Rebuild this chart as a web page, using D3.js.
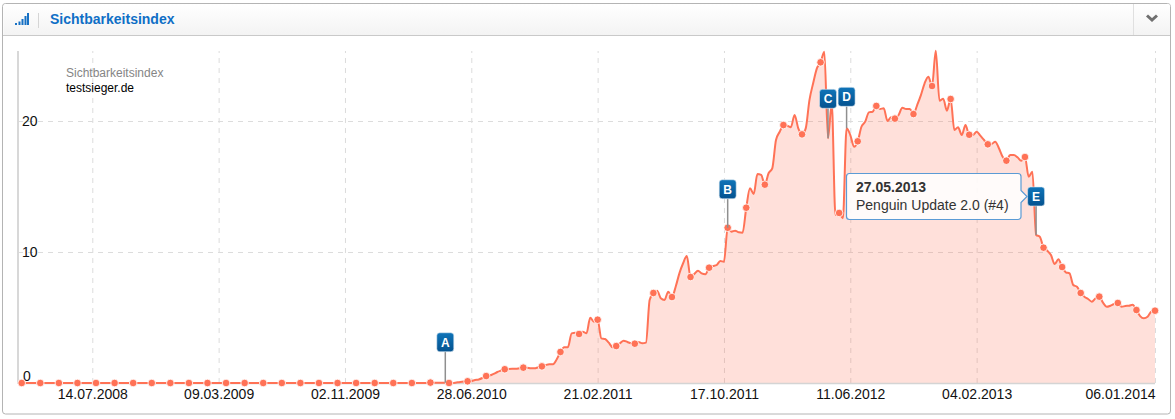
<!DOCTYPE html>
<html>
<head>
<meta charset="utf-8">
<script src="https://cdn.jsdelivr.net/npm/d3@7"></script>
<style>
html,body{margin:0;padding:0;background:#fff;}
svg{display:block;font-family:"Liberation Sans",Arial,sans-serif;}
</style>
</head>
<body>
<div id="chart"></div>
<script>
const chartTitle = "Sichtbarkeitsindex";
const domainName = "testsieger.de";
const firstWeek = "03.03.2008";
const visibility = [
0,0,0,0,0,0,0,0,0,0, 0,0,0,0,0,0,0,0,0,0,
0,0,0,0,0,0,0,0,0,0, 0,0,0,0,0,0,0,0,0,0,
0,0,0,0,0,0,0,0,0,0, 0,0,0,0,0,0,0,0,0,0,
0,0,0,0,0,0,0,0,0,0, 0,0,0,0,0,0,0,0,0,0,
0,0,0,0,0,0,0,0,0,0, 0,0,0,0,0,0,0,0,0,0,
0,0,0,0,0,0,0,0,0,0,
0.03,0.02,0.02,0.02,0.02,0,0,0.04,0.08,0.11,
0.13,0.15,0.23,0.27,0.38,0.53,0.57,0.69,0.84,0.95,
1.05,1.07,1.08,1.08,1.13,1.17,1.17,1.12,1.12,1.2,
1.27,1.37,1.43,1.43,1.81,2.37,2.73,2.73,3.79,3.84,
3.74,3.92,3.79,4.98,4.68,4.83,3.41,3.36,3.08,2.73,
2.82,3.03,3.23,3.13,3.03,3.0,3.13,3.03,3.08,6.34,
6.87,7.05,6.47,6.34,6.97,6.56,7.35,8.37,9.14,9.69,
8.09,8.32,8.57,8.37,8.3,8.8,8.93,9.0,9.31,9.26,
11.85,11.55,11.63,11.5,11.47,13.38,14.86,14.43,15.95,15.88,
15.14,16.01,16.39,18.55,19.18,19.69,19.64,19.52,20.46,19.44,
18.98,19.44,21.6,22.88,24.02,24.48,25.29,18.68,21.35,12.82,
12.98,12.57,19.44,18.93,18.04,18.45,19.56,19.95,20.66,20.71,
21.15,20.92,20.97,20.0,20.28,20.18,20.46,21.02,20.92,20.92,
20.53,21.22,21.98,22.88,23.38,22.67,25.37,21.55,21.7,20.79,
21.68,19.31,19.52,18.93,19.69,18.95,18.93,19.18,18.88,18.55,
18.22,18.24,18.42,17.92,17.27,16.97,17.4,17.4,17.23,16.97,
17.25,15.75,16.13,11.3,11.17,10.33,10.1,9.77,9.08,9.44,
8.85,8.45,8.37,7.48,7.35,6.87,6.59,6.41,6.21,6.47,
6.59,6.13,5.82,5.9,6.03,6.11,5.82,5.88,5.9,5.98,
5.57,5.11,4.94,5.06,5.44,5.52
];
const xTickLabels = ["14.07.2008","09.03.2009","02.11.2009","28.06.2010","21.02.2011","17.10.2011","11.06.2012","04.02.2013","06.01.2014"];
const yTicks = [0,10,20];
const eventLabels = ["A","B","C","D","E"];
const eventDates = ["10.05.2010","24.10.2011","30.04.2012","04.06.2012","27.05.2013"];
const tooltipDate = "27.05.2013";
const tooltipText = "Penguin Update 2.0 (#4)";

const parseDate = d3.utcParse("%d.%m.%Y");
const fmtDate = d3.utcFormat("%d.%m.%Y");
const start = parseDate(firstWeek);
const points = visibility.map((v, i) => ({date: d3.utcDay.offset(start, i * 7), value: v, i}));

const W = 1175, H = 419;
const x = d3.scaleUtc().domain([start, points[points.length - 1].date]).range([21.7, 1155]);
const y = d3.scaleLinear().domain([0, 20]).range([383, 121]);
const lineColor = "#ff7256";

const svg = d3.select("#chart").append("svg").attr("width", W).attr("height", H);

// panel
const defs = svg.append("defs");
const grad = defs.append("linearGradient").attr("id", "hdr").attr("x1", 0).attr("x2", 0).attr("y1", 0).attr("y2", 1);
grad.append("stop").attr("offset", "0%").attr("stop-color", "#ffffff");
grad.append("stop").attr("offset", "100%").attr("stop-color", "#f3f3f3");
const flagGrad = defs.append("linearGradient").attr("id", "flag").attr("x1", 0).attr("x2", 0).attr("y1", 0).attr("y2", 1);
flagGrad.append("stop").attr("offset", "0%").attr("stop-color", "#0f74b8");
flagGrad.append("stop").attr("offset", "100%").attr("stop-color", "#04528f");

svg.append("rect").attr("x", 2.5).attr("y", 3.5).attr("width", 1168).attr("height", 410.5).attr("rx", 3)
  .attr("fill", "#fff").attr("stroke", "#b4b4b4");
svg.append("path").attr("d", "M3.5,35.5V6a2,2 0 0 1 2,-2H1168a2,2 0 0 1 2,2V35.5Z").attr("fill", "url(#hdr)");
svg.append("line").attr("x1", 3).attr("x2", 1170).attr("y1", 35.5).attr("y2", 35.5).attr("stroke", "#c9c9c9");
svg.append("line").attr("x1", 38.5).attr("x2", 38.5).attr("y1", 13).attr("y2", 28).attr("stroke", "#d5d5d5");
svg.append("line").attr("x1", 1133.5).attr("x2", 1133.5).attr("y1", 4).attr("y2", 35).attr("stroke", "#e0e0e0");
[[15,23,2],[18.5,21.5,2],[21.5,19,2],[24.5,16,2],[27,13,2]].forEach(b => {
  svg.append("rect").attr("x", b[0]).attr("y", b[1]).attr("width", b[2]).attr("height", 25 - b[1]).attr("fill", "#1771c4");
});
svg.append("path").attr("d", "M1147,15.5L1152,20L1157,15.5").attr("fill", "none").attr("stroke", "#707070").attr("stroke-width", 3);
svg.append("text").attr("x", 50).attr("y", 24).attr("font-size", 14).attr("font-weight", "bold").attr("fill", "#0f6fc6").text(chartTitle);

// axes and grid
const tickDates = xTickLabels.map(parseDate);
const xAxis = d3.axisBottom(x).tickValues(tickDates).tickFormat(fmtDate).tickSize(-332).tickPadding(8);
const gx = svg.append("g").attr("transform", "translate(0,383)").call(xAxis);
gx.select(".domain").remove();
gx.selectAll("line").attr("stroke", "#dcdcdc").attr("stroke-dasharray", "5,5");
gx.selectAll("text").attr("font-size", 14).attr("fill", "#111").attr("font-family", "Liberation Sans").attr("y", 16).attr("dy", "0");
gx.selectAll("text").filter((d, i) => i === xTickLabels.length - 1).attr("text-anchor", "end");

const yAxis = d3.axisLeft(y).tickValues(yTicks).tickSize(-1137).tickPadding(0);
const gy = svg.append("g").attr("transform", "translate(18,0)").call(yAxis);
gy.select(".domain").remove();
gy.selectAll("line").attr("stroke", d => d === 0 ? "none" : "#dcdcdc").attr("stroke-dasharray", "5,5");
gy.selectAll("text").attr("font-size", 14).attr("fill", "#111").attr("font-family", "Liberation Sans")
  .attr("text-anchor", "start").attr("x", d => d === 0 ? 5 : 4).attr("dy", "0")
  .attr("y", d => d === 0 ? -3 : 4);

// area + line
const area = d3.area().x(d => x(d.date)).y0(y(0)).y1(d => y(d.value)).curve(d3.curveMonotoneX);
const line = d3.line().x(d => x(d.date)).y(d => y(d.value)).curve(d3.curveMonotoneX);
svg.append("path").datum(points).attr("d", area).attr("fill", lineColor).attr("fill-opacity", 0.22);
svg.append("line").attr("x1", 18).attr("x2", 1155).attr("y1", 383.5).attr("y2", 383.5).attr("stroke", "#d4d4d4").attr("stroke-width", 1.5);
svg.append("line").attr("x1", 18).attr("x2", 18).attr("y1", 51).attr("y2", 384).attr("stroke", "#d8d8d8").attr("stroke-width", 2);
svg.append("path").datum(points).attr("d", line).attr("fill", "none").attr("stroke", lineColor).attr("stroke-width", 2);
svg.append("g").selectAll("circle").data(points.filter(d => d.i % 5 === 0)).join("circle")
  .attr("cx", d => x(d.date)).attr("cy", d => y(d.value)).attr("r", 3.8)
  .attr("fill", lineColor).attr("stroke", "#fff").attr("stroke-opacity", 0.8).attr("stroke-width", 1);

// legend
svg.append("text").attr("x", 66).attr("y", 77).attr("font-size", 12).attr("fill", "#858585").text(chartTitle);
svg.append("text").attr("x", 66).attr("y", 92).attr("font-size", 12).attr("fill", "#000").text(domainName);

// event flags
const flagLift = {A: 31, B: 29, C: 30, D: 22, E: 29};
eventLabels.forEach((lab, k) => {
  const dt = parseDate(eventDates[k]);
  const p = points.find(q => +q.date === +dt);
  const px = x(p.date), py = y(p.value);
  const bottom = py - flagLift[lab];
  const g = svg.append("g");
  g.append("line").attr("x1", px).attr("x2", px).attr("y1", py).attr("y2", bottom).attr("stroke", "#8f8f8f").attr("stroke-width", 1.5);
  g.append("rect").attr("x", px - 8.5).attr("y", bottom - 19).attr("width", 17).attr("height", 19).attr("rx", 3)
    .attr("fill", "url(#flag)").attr("stroke", "#dfe9f2").attr("stroke-width", 0.6);
  g.append("text").attr("x", px).attr("y", bottom - 5).attr("text-anchor", "middle")
    .attr("font-size", 12).attr("font-weight", "bold").attr("fill", "#fff").text(lab);
});

// tooltip
const tip = svg.append("g");
tip.append("path").attr("d", "M849.5,173.5H1018a3,3 0 0 1 3,3V190.5L1027,196.5L1021,202.5V216.5a3,3 0 0 1 -3,3H849.5a3,3 0 0 1 -3,-3V176.5a3,3 0 0 1 3,-3Z")
  .attr("fill", "#fff").attr("fill-opacity", 0.87).attr("stroke", "#5b9bd5").attr("stroke-width", 1.2);
tip.append("text").attr("x", 856).attr("y", 192).attr("font-size", 14).attr("font-weight", "bold").attr("fill", "#333").text(tooltipDate);
tip.append("text").attr("x", 856).attr("y", 210).attr("font-size", 14).attr("fill", "#333").text(tooltipText);
</script>
</body>
</html>
